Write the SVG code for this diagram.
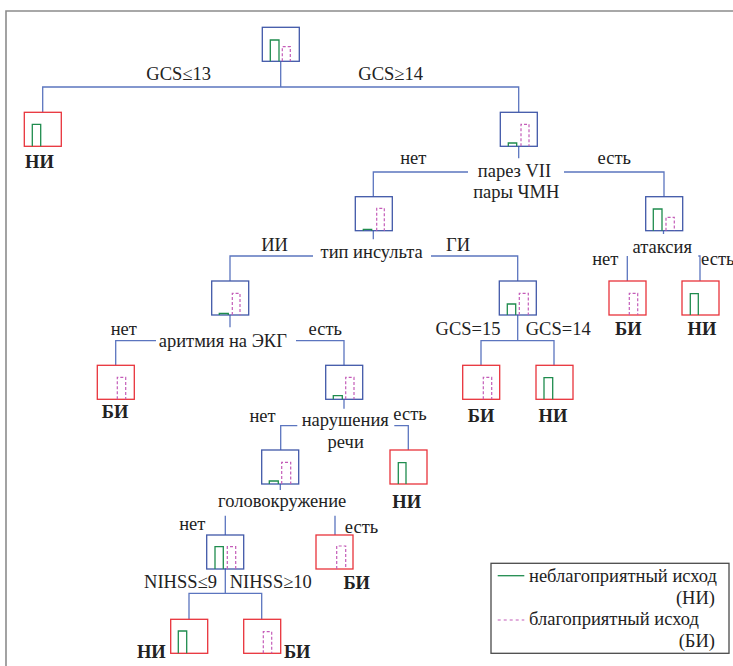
<svg xmlns="http://www.w3.org/2000/svg" width="733" height="666" viewBox="0 0 733 666">
  <style>
    .frame { fill: none; stroke: #8c8c8c; stroke-width: 1.6; }
    .edge { fill: none; stroke: #5b75bf; stroke-width: 1.3; }
    .box-int { fill: none; stroke: #4058a8; stroke-width: 1.3; }
    .box-leaf { fill: none; stroke: #e8333b; stroke-width: 1.3; }
    .bar-ni { fill: none; stroke: #1f8c4e; stroke-width: 1.3; }
    .bar-bi { fill: none; stroke: #c45cb8; stroke-width: 1.2; stroke-dasharray: 3 2; }
    .t { font-family: "Liberation Serif", "Times New Roman", serif; font-size: 18.5px; fill: #222; text-anchor: middle; }
    .b { font-weight: bold; }
    .s { text-anchor: start; }
    .e { text-anchor: end; }
    .legend { fill: #fff; stroke: #4a4a4a; stroke-width: 1.3; }
  </style>

  <rect width="733" height="666" fill="#fff"/>
  <!-- outer frame (top and left edges visible) -->
  <path class="frame" d="M6 670 V11 H740"/>

  <!-- connectors -->
  <g id="connectors">
    <path class="edge" d="M280.7 62 V87 M42.7 112 V87 H518.7 V112"/>
    <path class="edge" d="M518.7 146 V158.3"/>
    <path class="edge" d="M468 172 H373.3 V197 M564 172 H664 V197"/>
    <path class="edge" d="M373.3 231 V239.3"/>
    <path class="edge" d="M313 256 H230 V281 M431 256 H517.7 V281"/>
    <path class="edge" d="M663.5 231 V234"/>
    <path class="edge" d="M627.3 256 V281 M698.3 256 H700 V281"/>
    <path class="edge" d="M230 315 V327.3"/>
    <path class="edge" d="M156 340.7 H115.7 V365.3 M296 340.7 H344 V365.3"/>
    <path class="edge" d="M517.7 315 V340.7 M481 365.3 V340.7 H554 V365.3"/>
    <path class="edge" d="M344 399.3 V408.7"/>
    <path class="edge" d="M297.3 425.7 H280.7 V450 M394.3 425.7 H408.3 V450"/>
    <path class="edge" d="M280.3 484 V490"/>
    <path class="edge" d="M225.3 515.7 V535 M335 515.7 V535"/>
    <path class="edge" d="M225.3 568.3 V593.3 M189 619.3 V593.3 H261.7 V619.3"/>
  </g>

  <!-- nodes: box with outcome bars -->
  <g id="n-root" transform="translate(262.3 27.3)">
    <rect class="box-int" width="37" height="34"/>
    <path class="bar-ni" d="M8 34 V12.7 H16.7 V34"/>
    <path class="bar-bi" d="M20 34 V19.4 H28 V34"/>
  </g>

  <g id="n-gcs13" transform="translate(24.3 112.3)">
    <rect class="box-leaf" width="37" height="34"/>
    <path class="bar-ni" d="M8 34 V12 H16.4 V34"/>
    <text class="t b" x="15.2" y="55.7">НИ</text>
  </g>

  <g id="n-gcs14" transform="translate(500.3 112.3)">
    <rect class="box-int" width="37" height="34"/>
    <path class="bar-ni" d="M8 34 V30.7 H16.4 V34"/>
    <path class="bar-bi" d="M20.7 34 V12 H28.7 V34"/>
  </g>

  <g id="n-paresis-no" transform="translate(355.3 196.7)">
    <rect class="box-int" width="37" height="34"/>
    <path class="bar-ni" d="M8 34 V32.6 H16.4 V34"/>
    <path class="bar-bi" d="M21.4 34 V11.6 H29 V34"/>
  </g>

  <g id="n-paresis-yes" transform="translate(645.7 196.7)">
    <rect class="box-int" width="37" height="34"/>
    <path class="bar-ni" d="M7.6 34 V12.3 H16.3 V34"/>
    <path class="bar-bi" d="M20.3 34 V20.6 H28.6 V34"/>
  </g>

  <g id="n-ii" transform="translate(211.7 281)">
    <rect class="box-int" width="37" height="34"/>
    <path class="bar-ni" d="M7.6 34 V32.5 H16.6 V34"/>
    <path class="bar-bi" d="M20.6 34 V12.3 H28.3 V34"/>
  </g>

  <g id="n-gi" transform="translate(499.3 281)">
    <rect class="box-int" width="37" height="34"/>
    <path class="bar-ni" d="M8 34 V23 H16.4 V34"/>
    <path class="bar-bi" d="M20 34 V12.3 H29 V34"/>
  </g>

  <g id="n-ataxia-no" transform="translate(609 281)">
    <rect class="box-leaf" width="37" height="34"/>
    <path class="bar-bi" d="M20.3 34 V12.3 H28.7 V34"/>
    <text class="t b" x="19.3" y="54">БИ</text>
  </g>

  <g id="n-ataxia-yes" transform="translate(682 281)">
    <rect class="box-leaf" width="37" height="34"/>
    <path class="bar-ni" d="M8.3 34 V12.7 H16.3 V34"/>
    <text class="t b" x="20" y="54">НИ</text>
  </g>

  <g id="n-arrhythmia-no" transform="translate(97.3 365.3)">
    <rect class="box-leaf" width="37" height="34"/>
    <path class="bar-bi" d="M20 34 V12 H28.4 V34"/>
    <text class="t b" x="17.7" y="53">БИ</text>
  </g>

  <g id="n-arrhythmia-yes" transform="translate(325.7 365.3)">
    <rect class="box-int" width="37" height="34"/>
    <path class="bar-ni" d="M7.6 34 V30.4 H16.6 V34"/>
    <path class="bar-bi" d="M20 34 V12 H28.3 V34"/>
  </g>

  <g id="n-gcs15" transform="translate(462.7 365.3)">
    <rect class="box-leaf" width="37" height="34"/>
    <path class="bar-bi" d="M20.6 34 V12 H29 V34"/>
    <text class="t b" x="18.3" y="56.4">БИ</text>
  </g>

  <g id="n-gcs14b" transform="translate(536 365.3)">
    <rect class="box-leaf" width="37" height="34"/>
    <path class="bar-ni" d="M8 34 V12.4 H16.7 V34"/>
    <text class="t b" x="17" y="56.4">НИ</text>
  </g>

  <g id="n-speech-no" transform="translate(261.7 450)">
    <rect class="box-int" width="37" height="34"/>
    <path class="bar-ni" d="M7.6 34 V31 H16.6 V34"/>
    <path class="bar-bi" d="M20 34 V12.3 H29 V34"/>
  </g>

  <g id="n-speech-yes" transform="translate(390 450)">
    <rect class="box-leaf" width="37" height="34"/>
    <path class="bar-ni" d="M8.3 34 V12.7 H16 V34"/>
    <text class="t b" x="16.7" y="57.7">НИ</text>
  </g>

  <g id="n-vertigo-no" transform="translate(206.7 535)">
    <rect class="box-int" width="37" height="34"/>
    <path class="bar-ni" d="M8.3 34 V11.7 H16.6 V34"/>
    <path class="bar-bi" d="M20.6 34 V11.7 H29 V34"/>
  </g>

  <g id="n-vertigo-yes" transform="translate(316 535)">
    <rect class="box-leaf" width="37" height="34"/>
    <path class="bar-bi" d="M20.7 34 V11 H29.7 V34"/>
    <text class="t b" x="40.7" y="54">БИ</text>
  </g>

  <g id="n-nihss9" transform="translate(170.7 619.3)">
    <rect class="box-leaf" width="37" height="34"/>
    <path class="bar-ni" d="M7.6 34 V11.7 H16 V34"/>
    <text class="t b" x="-19.4" y="39">НИ</text>
  </g>

  <g id="n-nihss10" transform="translate(243.7 619.3)">
    <rect class="box-leaf" width="37" height="34"/>
    <path class="bar-bi" d="M19.6 34 V12.4 H28 V34"/>
    <text class="t b" x="53.5" y="38.7">БИ</text>
  </g>

  <!-- split criteria and branch labels -->
  <g id="labels">
    <text class="t" x="178.7" y="80">GCS≤13</text>
    <text class="t" x="390.7" y="80">GCS≥14</text>
    <text class="t" x="413.3" y="164">нет</text>
    <text class="t" x="614.3" y="164">есть</text>
    <text class="t" x="514.5" y="176.7">парез VII</text>
    <text class="t" x="516.3" y="198.3">пары ЧМН</text>
    <text class="t" x="274.5" y="250.7">ИИ</text>
    <text class="t" x="458" y="250.7">ГИ</text>
    <text class="t" x="371.7" y="258">тип инсульта</text>
    <text class="t" x="662.2" y="252.7">атаксия</text>
    <text class="t" x="605.3" y="265">нет</text>
    <text class="t s" x="701" y="265">есть</text>
    <text class="t" x="123.8" y="335">нет</text>
    <text class="t" x="222.8" y="346.7">аритмия на ЭКГ</text>
    <text class="t" x="325.3" y="335">есть</text>
    <text class="t" x="468" y="335">GCS=15</text>
    <text class="t" x="558.2" y="335">GCS=14</text>
    <text class="t" x="262.5" y="421.7">нет</text>
    <text class="t" x="345.3" y="426">нарушения</text>
    <text class="t" x="345.7" y="448.3">речи</text>
    <text class="t" x="410" y="420">есть</text>
    <text class="t" x="282.2" y="507.3">головокружение</text>
    <text class="t" x="192.3" y="530">нет</text>
    <text class="t" x="361.5" y="533">есть</text>
    <text class="t" x="180.5" y="588.3">NIHSS≤9</text>
    <text class="t" x="270.8" y="588.3">NIHSS≥10</text>
  </g>

  <!-- legend -->
  <g id="legend">
    <rect class="legend" x="491" y="563.3" width="238" height="90"/>
    <line x1="497.7" y1="575.7" x2="524.3" y2="575.7" stroke="#1f8c4e" stroke-width="1.3"/>
    <line x1="497.7" y1="620" x2="524.3" y2="620" stroke="#c45cb8" stroke-width="1.2" stroke-dasharray="3 3"/>
    <text class="t s" x="529" y="581.7">неблагоприятный исход</text>
    <text class="t e" x="715" y="604">(НИ)</text>
    <text class="t s" x="529" y="625">благоприятный исход</text>
    <text class="t e" x="715" y="646.7">(БИ)</text>
  </g>
</svg>
